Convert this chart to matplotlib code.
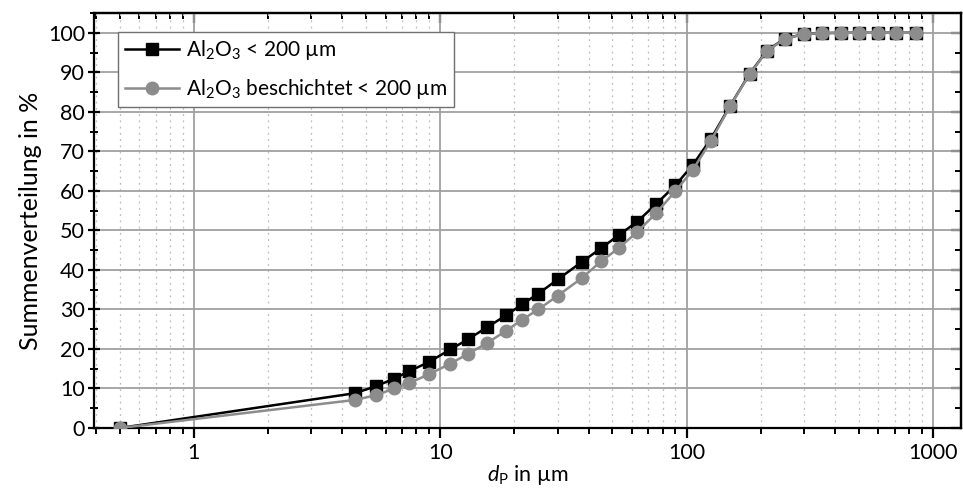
import numpy as np
import matplotlib
matplotlib.use("Agg")
import matplotlib.pyplot as plt
from matplotlib.ticker import LogLocator, MultipleLocator, FixedLocator, NullFormatter

plt.rcParams["font.family"] = ["Lato", "DejaVu Sans"]
plt.rcParams["mathtext.fontset"] = "custom"
plt.rcParams["mathtext.rm"] = "Lato"
plt.rcParams["mathtext.it"] = "Lato:italic"

# particle size classes (µm)
d_p = [0.5, 4.5, 5.5, 6.5, 7.5, 9, 11, 13, 15.5, 18.5, 21.5, 25, 30, 37.5, 45, 53,
       63, 75, 90, 106, 125, 150, 180, 212, 250, 300, 355, 425, 500, 600, 710, 850]

# cumulative distribution in %
q_al2o3 = [0, 8.8, 10.6, 12.5, 14.4, 16.7, 19.9, 22.5, 25.5, 28.5, 31.3, 34.0, 37.6,
           42.0, 45.5, 48.8, 52.2, 56.6, 61.4, 66.6, 73.0, 81.5, 89.6, 95.5, 98.5,
           99.7, 99.9, 100, 100, 100, 100, 100]
q_coated = [0, 7.1, 8.3, 10.0, 11.4, 13.6, 16.3, 18.8, 21.5, 24.6, 27.4, 30.0, 33.5,
            37.9, 42.2, 45.5, 49.6, 54.3, 59.9, 65.3, 72.5, 81.4, 89.5, 95.4, 98.4,
            99.7, 99.9, 100, 100, 100, 100, 100]

labels = [r"Al$_2$O$_3$ < 200 µm", r"Al$_2$O$_3$ beschichtet < 200 µm"]

fig = plt.figure(figsize=(9.63, 5.0), dpi=100)
ax = fig.add_axes([0.0976, 0.144, 0.9004, 0.830])

ax.plot(d_p, q_al2o3, color="black", lw=1.8, marker="s", ms=8.5, zorder=3, label=labels[0])
ax.plot(d_p, q_coated, color="#8c8c8c", lw=1.8, marker="o", ms=9, zorder=4, label=labels[1])

ax.set_xscale("log")
ax.set_xlim(0.393, 1300)
ax.set_ylim(0, 105)

ax.xaxis.set_major_locator(FixedLocator([1, 10, 100, 1000]))
ax.xaxis.set_major_formatter(matplotlib.ticker.FuncFormatter(lambda v, p: "%d" % v))
ax.xaxis.set_minor_locator(LogLocator(base=10, subs=np.arange(2, 10), numticks=20))
ax.xaxis.set_minor_formatter(NullFormatter())
ax.yaxis.set_minor_locator(MultipleLocator(5))
ax.set_yticks(np.arange(0, 101, 10))

ax.grid(True, which="major", color="#a0a0a0", lw=1.3, zorder=0)
ax.grid(True, which="minor", axis="x", color="#bdbdbd", lw=0.9, ls=(0, (1.5, 3.5)), zorder=0)
ax.set_axisbelow(True)

for s in ax.spines.values():
    s.set_linewidth(1.6)
    s.set_color("black")

ax.tick_params(axis="x", which="major", direction="out", length=7, width=1.6,
               labelsize=15.5, pad=4, top=False)
ax.tick_params(axis="x", which="minor", direction="out", length=4, width=1.4, top=False)
ax.tick_params(axis="y", which="major", direction="inout", length=9, width=1.6,
               labelsize=15.5, pad=2, right=False)
ax.tick_params(axis="y", which="minor", direction="inout", length=6, width=1.4, right=False)

# inward ticks on top and right
top = ax.secondary_xaxis("top")
top.set_xscale("log")
top.xaxis.set_major_locator(FixedLocator([1, 10, 100, 1000]))
top.xaxis.set_minor_locator(LogLocator(base=10, subs=np.arange(2, 10), numticks=20))
top.tick_params(which="major", direction="in", length=7, width=1.6, labeltop=False)
top.tick_params(which="minor", direction="in", length=4, width=1.4, labeltop=False)
top.xaxis.set_minor_formatter(NullFormatter())
top.spines["top"].set_linewidth(1.6)

right = ax.secondary_yaxis("right")
right.yaxis.set_major_locator(MultipleLocator(10))
right.yaxis.set_minor_locator(MultipleLocator(5))
right.tick_params(which="major", direction="in", length=7, width=1.6, labelright=False)
right.tick_params(which="minor", direction="in", length=4, width=1.4, labelright=False)
right.spines["right"].set_linewidth(1.6)

ax.set_xlabel(r"$d_\mathrm{P}$ in µm", fontsize=15.5, labelpad=0)
ax.set_ylabel("Summenverteilung in %", fontsize=18, labelpad=4)

leg = ax.legend(loc="upper left", bbox_to_anchor=(0.028, 0.954), fontsize=15,
                fancybox=False, framealpha=1, edgecolor="#707070", handlelength=2.6,
                borderpad=0.3, labelspacing=0.7, handletextpad=0.35, borderaxespad=0)
leg.get_frame().set_linewidth(1.0)

fig.savefig("out.png", dpi=100)
